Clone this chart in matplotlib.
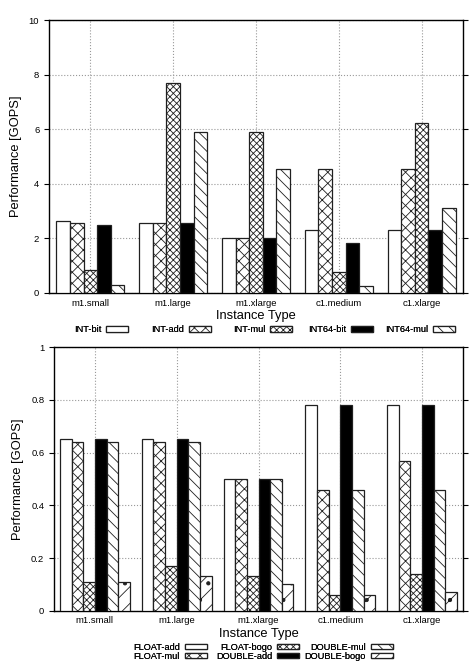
import numpy as np
import matplotlib
matplotlib.use('Agg')
import matplotlib.pyplot as plt

plt.rcParams['font.family'] = ['Liberation Sans', 'DejaVu Sans']
plt.rcParams['hatch.linewidth'] = 0.6

instances = ['m1.small', 'm1.large', 'm1.xlarge', 'c1.medium', 'c1.xlarge']

int_names = ['INT-bit', 'INT-add', 'INT-mul', 'INT64-bit', 'INT64-mul']
int_bit = [2.64, 2.57, 2.0, 2.32, 2.32]
int_add = [2.57, 2.57, 2.0, 4.55, 4.55]
int_mul = [0.85, 7.7, 5.88, 0.76, 6.23]
int64_bit = [2.49, 2.57, 2.0, 1.82, 2.32]
int64_mul = [0.31, 5.89, 4.55, 0.27, 3.13]

fp_names = ['FLOAT-add', 'FLOAT-mul', 'FLOAT-bogo', 'DOUBLE-add', 'DOUBLE-mul', 'DOUBLE-bogo']
float_add = [0.65, 0.65, 0.50, 0.78, 0.78]
float_mul = [0.64, 0.64, 0.50, 0.46, 0.57]
float_bogo = [0.11, 0.17, 0.13, 0.06, 0.14]
double_add = [0.65, 0.65, 0.50, 0.78, 0.78]
double_mul = [0.64, 0.64, 0.50, 0.46, 0.46]
double_bogo = [0.11, 0.13, 0.10, 0.06, 0.07]

# (facecolor, hatch) per series
int_styles = [('white', ''), ('white', 'xxx'), ('white', 'xxxxx'), ('black', ''), ('white', '\\\\\\')]
fp_styles = [('white', ''), ('white', 'xxx'), ('white', 'xxxxx'), ('black', ''),
             ('white', '\\\\\\'), ('white', '//.')]

W, H = 475.0, 664.0


def draw(ax, series, names, styles, width):
    x = np.arange(len(instances))
    n = len(series)
    for i, (vals, name, (fc, h)) in enumerate(zip(series, names, styles)):
        off = (i - (n - 1) / 2) * width
        ax.bar(x + off, vals, width, color=fc, hatch=h, edgecolor='#202020',
               linewidth=0.9, label=name, zorder=3)
    ax.set_xticks(x)
    ax.set_xticklabels(instances, fontsize=6.8)
    ax.set_xlim(-0.5, len(instances) - 0.5)
    ax.grid(True, linestyle=':', color='#999999', linewidth=0.8, zorder=0)
    ax.tick_params(axis='y', direction='out', right=True, labelsize=6.8, length=3.5)
    ax.tick_params(axis='x', length=0, pad=4)
    for s in ax.spines.values():
        s.set_linewidth(1.0)
    ax.set_ylabel('Performance [GOPS]', fontsize=9.3, labelpad=5)
    ax.set_xlabel('Instance Type', fontsize=9.3, labelpad=2)


def key(fig, ax, positions):
    # gnuplot-style key: right-justified label, sample box on its right
    handles, labels = ax.get_legend_handles_labels()
    for h, l, (px, py) in zip(handles, labels, positions):
        lg = fig.legend([h], [l], loc='center right', bbox_to_anchor=(px / W, 1 - py / H),
                        frameon=False, fontsize=6.7, markerfirst=False, handlelength=2.4,
                        handleheight=0.55, handletextpad=0.5, borderpad=0,
                        borderaxespad=0)
        fig.add_artist(lg)


fig = plt.figure(figsize=(4.75, 6.64), dpi=100)

ax1 = fig.add_axes([49 / W, 1 - 293 / H, 414 / W, 273 / H])
draw(ax1, [int_bit, int_add, int_mul, int64_bit, int64_mul], int_names, int_styles, 0.164)
ax1.set_ylim(0, 10)
ax1.set_yticks([0, 2, 4, 6, 8, 10])
key(fig, ax1, [(128, 329.5), (211, 329.5), (292, 329.5), (373, 329.5), (455, 329.5)])

ax2 = fig.add_axes([54 / W, 1 - 610.7 / H, 409 / W, 263.4 / H])
draw(ax2, [float_add, float_mul, float_bogo, double_add, double_mul, double_bogo],
     fp_names, fp_styles, 0.1425)
ax2.set_ylim(0, 1)
ax2.set_yticks([0, 0.2, 0.4, 0.6, 0.8, 1])
ax2.set_yticklabels(['0', '0.2', '0.4', '0.6', '0.8', '1'])
key(fig, ax2, [(207, 647.3), (207, 656.3), (299, 647.3), (299, 656.3), (393, 647.3), (393, 656.3)])

fig.savefig('out.png', dpi=100)
